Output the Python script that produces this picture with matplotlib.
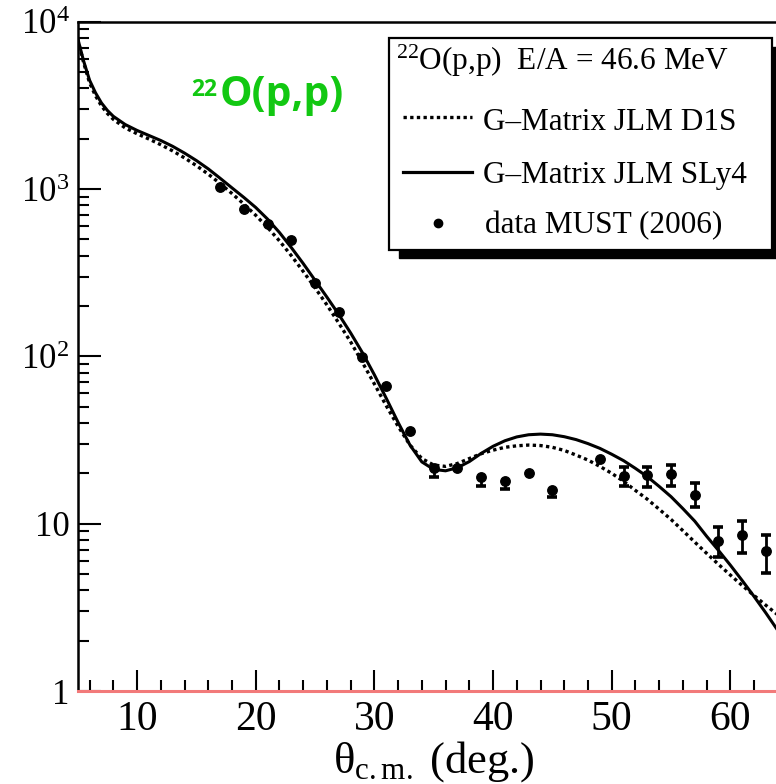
import numpy as np
import matplotlib
matplotlib.use("Agg")
import matplotlib.pyplot as plt
from matplotlib.patches import Rectangle
from matplotlib.lines import Line2D
from matplotlib.ticker import FixedLocator, FixedFormatter, LogLocator, NullFormatter, MultipleLocator

plt.rcParams['font.family'] = ['Liberation Serif', 'DejaVu Serif']
plt.rcParams['mathtext.fontset'] = 'custom'
plt.rcParams['mathtext.rm'] = 'Liberation Serif'
plt.rcParams['mathtext.it'] = 'Liberation Serif:italic'
plt.rcParams['mathtext.bf'] = 'Liberation Serif:bold'

# ---- data: G-Matrix JLM SLy4 (solid) ----
theta_sly4 = [5, 5.5, 6, 6.5, 7, 7.5, 8, 9, 10, 11, 12, 13, 14, 15, 16, 17, 18, 19, 20, 21, 22, 23,
              24, 25, 26, 27, 28, 29, 30, 31, 32, 33, 34, 35, 36, 37, 38, 39, 40, 41, 42, 43, 44,
              45, 46, 47, 48, 49, 50, 51, 52, 53, 54, 55, 56, 57, 58, 59, 60, 61, 62, 63, 64, 65]
xs_sly4 = [7950, 5820, 4470, 3760, 3270, 2950, 2720, 2430, 2240, 2090, 1950, 1800, 1640, 1480, 1320,
           1160, 1016, 891, 776, 661, 550, 447, 359, 285, 226, 178, 138, 105, 77.6, 56.2, 40.3,
           29.5, 23.4, 21.1, 20.7, 21.6, 23.5, 26.3, 29.0, 31.3, 33.0, 34.0, 34.3, 34.0, 33.1,
           31.8, 30.1, 28.2, 26.0, 23.8, 21.4, 19.1, 16.7, 14.5, 12.3, 10.35, 8.41, 6.92, 5.65,
           4.57, 3.67, 2.92, 2.30, 1.81]

# ---- data: G-Matrix JLM D1S (dotted) ----
theta_d1s = theta_sly4
xs_d1s = [7850, 5690, 4315, 3610, 3140, 2830, 2610, 2320, 2140, 1990, 1840, 1690, 1535, 1380, 1227,
          1079, 940, 813, 697, 589, 490, 400, 322, 257, 203, 158, 122, 91.8, 68.4, 50.7, 38.2,
          29.5, 24.5, 22.4, 22.0, 22.9, 24.5, 26.2, 27.5, 28.6, 29.2, 29.5, 29.3, 28.6, 27.4,
          25.7, 24.0, 22.0, 20.0, 17.9, 15.8, 14.0, 12.2, 10.6, 9.08, 7.76, 6.65, 5.71, 4.93,
          4.27, 3.72, 3.25, 2.85, 2.51]

# ---- data: MUST (2006) ----
theta_data = [17, 19, 21, 23, 25, 27, 29, 31, 33, 35, 37, 39, 41, 43, 45, 49, 51, 53, 55, 57, 59, 61, 63]
xs_data = [1030, 757, 617, 499, 273, 184, 99, 66.5, 35.8, 21.6, 21.6, 19.0, 18.0, 20.0, 16.0,
           24.3, 19.4, 19.5, 19.9, 14.9, 7.85, 8.6, 6.84]
err_low = [0, 0, 0, 0, 0, 0, 0, 0, 0, 2.7, 0, 2.1, 1.9, 0, 1.6, 0, 2.5, 3.0, 3.1, 2.3, 1.5, 1.9, 1.75]
err_high = [0, 0, 0, 0, 0, 0, 0, 0, 0, 0, 0, 0, 0, 0, 0, 0, 2.3, 2.4, 2.6, 2.6, 1.7, 1.8, 1.76]

xticks = [10, 20, 30, 40, 50, 60]
xtick_labels = ['10', '20', '30', '40', '50', '60']
yticks = [1, 10, 100, 1000, 10000]
ytick_labels = ['1', '10', r'$10^{2}$', r'$10^{3}$', r'$10^{4}$']

legend_title = r'$^{22}$O(p,p)  E/A = 46.6 MeV'
legend_labels = ['G\u2013Matrix JLM D1S', 'G\u2013Matrix JLM SLy4', 'data MUST (2006)']

W, H = 776, 784
fig = plt.figure(figsize=(W / 100, H / 100), dpi=100)


def fx(px):
    return px / W


def fy(py):
    return 1 - py / H


ax = fig.add_axes([fx(77.7), fy(691), 712 / W, (691 - 21.7) / H])
ax.set_yscale('log')
ax.set_xlim(5, 65)
ax.set_ylim(1, 1e4)

ax.plot(theta_d1s, xs_d1s, color='black', lw=2.4, linestyle=(0, (1.0, 1.0)), zorder=3)
ax.plot(theta_sly4, xs_sly4, color='black', lw=2.2, zorder=3)

t = np.array(theta_data)
v = np.array(xs_data)
lo = np.array(err_low)
hi = np.array(err_high)
m = (lo > 0) | (hi > 0)
ax.vlines(t[m], (v - lo)[m], (v + hi)[m], color='black', lw=2.0, zorder=4)
ml = lo > 0
ax.plot(t[ml], (v - lo)[ml], linestyle='none', marker='_', ms=7.5, mew=2.6, color='black', zorder=4)
mh = hi > 0
ax.plot(t[mh], (v + hi)[mh], linestyle='none', marker='_', ms=7.5, mew=2.6, color='black', zorder=4)
ax.plot(t, v, linestyle='none', marker='o', ms=6.8, color='black', zorder=5)

# ticks
ax.xaxis.set_major_locator(FixedLocator(xticks))
ax.xaxis.set_major_formatter(FixedFormatter(xtick_labels))
ax.xaxis.set_minor_locator(MultipleLocator(2))
ax.yaxis.set_major_locator(FixedLocator(yticks))
ax.yaxis.set_major_formatter(FixedFormatter(ytick_labels))
ax.yaxis.set_minor_locator(LogLocator(base=10, subs=np.arange(2, 10), numticks=20))
ax.yaxis.set_minor_formatter(NullFormatter())

ax.tick_params(axis='both', which='both', direction='in', top=False, right=False, color='black')
ax.tick_params(axis='y', which='major', length=16.5, width=1.5, labelsize=25, pad=6)
ax.tick_params(axis='y', which='minor', length=8, width=1.5)
ax.tick_params(axis='x', which='major', length=15, width=1.5, labelsize=30, pad=7)
ax.tick_params(axis='x', which='minor', length=8, width=1.5)

for s in ['left', 'top', 'bottom']:
    ax.spines[s].set_linewidth(1.8)
ax.spines['right'].set_visible(False)

# red line along the bottom
ax.axhline(1, color='#f27a7a', lw=2.2, zorder=6, clip_on=False)

ax.set_xlabel('θ$_{\\mathrm{c.m.}}$ (deg.)', fontsize=32, labelpad=0)

# green reaction label
green = '#12c812'
fig.text(fx(191), fy(96), '22', color=green, fontsize=16.5, fontweight='bold',
         family=['Open Sans', 'DejaVu Sans'], ha='left', va='baseline')
fig.text(fx(220), fy(106), 'O(p,p)', color=green, fontsize=29.5, fontweight='bold',
         family=['Open Sans', 'DejaVu Sans'], ha='left', va='baseline')

# legend box with shadow
bx0, by0, bx1, by1 = 389, 38.5, 772, 250
fig.patches.append(Rectangle((fx(bx0 + 10), fy(by1 + 8)), (bx1 - bx0) / W, (by1 - by0) / H,
                             transform=fig.transFigure, facecolor='black', edgecolor='black', zorder=8))
fig.patches.append(Rectangle((fx(bx0), fy(by1)), (bx1 - bx0) / W, (by1 - by0) / H,
                             transform=fig.transFigure, facecolor='white', edgecolor='black',
                             lw=1.6, zorder=9))
fig.text(fx(396), fy(70), legend_title, fontsize=22.5, ha='left', va='baseline', zorder=10)
fig.lines.append(Line2D([fx(403), fx(472)], [fy(117), fy(117)], transform=fig.transFigure,
                        color='black', lw=2.4, linestyle=(0, (1.0, 1.0)), zorder=10))
fig.lines.append(Line2D([fx(403), fx(472)], [fy(171.5), fy(171.5)], transform=fig.transFigure,
                        color='black', lw=2.3, zorder=10))
fig.lines.append(Line2D([fx(438)], [fy(223)], transform=fig.transFigure, color='black',
                        marker='o', ms=6.0, linestyle='none', zorder=10))
fig.text(fx(483), fy(130), legend_labels[0], fontsize=22.5, ha='left', va='baseline', zorder=10)
fig.text(fx(483), fy(183), legend_labels[1], fontsize=22.5, ha='left', va='baseline', zorder=10)
fig.text(fx(485), fy(233), legend_labels[2], fontsize=22.5, ha='left', va='baseline', zorder=10)

fig.savefig('out.png', dpi=100)
